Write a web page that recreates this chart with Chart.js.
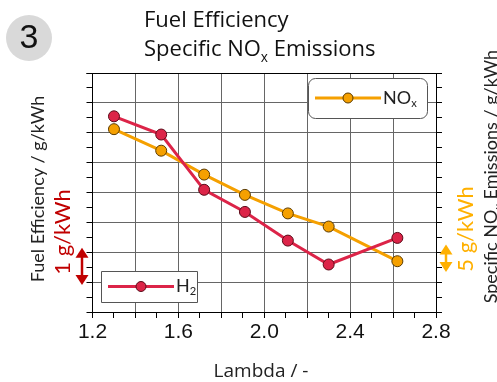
<!DOCTYPE html>
<html>
<head>
<meta charset="utf-8">
<script src="https://cdn.jsdelivr.net/npm/chart.js@4.4.1/dist/chart.umd.min.js"></script>
<style>
  html, body { margin: 0; padding: 0; background: #fff; }
  .container { width: 497px; height: 382px; }
</style>
</head>
<body>
<div class="container">
  <canvas id="myChart" width="497" height="382"></canvas>
</div>
<script>
// lambda values (x) and the two series
const lambdas = [1.3, 1.52, 1.72, 1.91, 2.11, 2.3, 2.62];
const fuelH2 = [6.55, 5.94, 4.09, 3.35, 2.39, 1.59, 2.48];   // g/kWh, relative (1 grid = 1 g/kWh)
const noxSpecific = [30.6, 27.0, 23.0, 19.6, 16.5, 14.3, 8.5]; // g/kWh, relative (1 grid = 5 g/kWh)
const xTickLabels = ['1.2', '1.6', '2.0', '2.4', '2.8'];

const RED = '#dc2448';
const ORANGE = '#f5a000';
const DARKRED = '#c00000';
const LABEL_ORANGE = '#ffb000';
const GRID = '#666';

// draws text with optional subscript parts: [['NO'], ['x', true]]
function richText(ctx, parts, x, y, size, font, align) {
  let total = 0;
  const widths = parts.map(p => {
    ctx.font = (p[1] ? size * 0.62 : size) + 'px ' + font;
    const w = ctx.measureText(p[0]).width;
    total += w;
    return w;
  });
  let cx = align === 'center' ? x - total / 2 : (align === 'right' ? x - total : x);
  parts.forEach((p, i) => {
    ctx.font = (p[1] ? size * 0.62 : size) + 'px ' + font;
    ctx.fillText(p[0], cx, p[1] ? y + size * 0.28 : y);
    cx += widths[i];
  });
}

function doubleArrow(ctx, x, y1, y2, color) {
  ctx.save();
  ctx.strokeStyle = color;
  ctx.fillStyle = color;
  ctx.lineWidth = 2.5;
  ctx.beginPath();
  ctx.moveTo(x, y1 + 6);
  ctx.lineTo(x, y2 - 6);
  ctx.stroke();
  ctx.beginPath();
  ctx.moveTo(x, y1); ctx.lineTo(x - 6.5, y1 + 10); ctx.lineTo(x + 6.5, y1 + 10);
  ctx.closePath(); ctx.fill();
  ctx.beginPath();
  ctx.moveTo(x, y2); ctx.lineTo(x - 6.5, y2 - 10); ctx.lineTo(x + 6.5, y2 - 10);
  ctx.closePath(); ctx.fill();
  ctx.restore();
}

function legendBox(ctx, x, y, w, h, r, color, pointColor, parts) {
  ctx.save();
  ctx.fillStyle = '#fff';
  ctx.strokeStyle = '#555';
  ctx.lineWidth = 1;
  ctx.beginPath();
  if (r > 0) ctx.roundRect(x + 0.5, y + 0.5, w, h, r); else ctx.rect(x + 0.5, y + 0.5, w, h);
  ctx.fill();
  ctx.stroke();
  const cy = y + h / 2;
  ctx.strokeStyle = color;
  ctx.lineWidth = 3;
  ctx.beginPath();
  ctx.moveTo(x + 7, cy);
  ctx.lineTo(x + 73, cy);
  ctx.stroke();
  ctx.fillStyle = color;
  ctx.strokeStyle = pointColor;
  ctx.lineWidth = 1;
  ctx.beginPath();
  ctx.arc(x + 40, cy, 5, 0, Math.PI * 2);
  ctx.fill();
  ctx.stroke();
  ctx.fillStyle = '#222';
  ctx.textBaseline = 'middle';
  richText(ctx, parts, x + 75, cy, 18, 'Lato', 'left');
  ctx.restore();
}

const decorations = {
  id: 'decorations',
  afterDatasetsDraw(chart) {
    const ctx = chart.ctx;
    const area = chart.chartArea;
    const y = chart.scales.y;
    const y1 = chart.scales.y1;

    // top frame line
    ctx.save();
    ctx.strokeStyle = '#000';
    ctx.lineWidth = 1;
    ctx.beginPath();
    ctx.moveTo(area.left - 6, Math.round(area.top) + 0.5);
    ctx.lineTo(area.right + 6, Math.round(area.top) + 0.5);
    ctx.stroke();
    ctx.restore();

    // legends inside the plot
    legendBox(ctx, 308, 78, 119, 40, 7, ORANGE, '#5a3a00', [['NO'], ['x', true]]);
    legendBox(ctx, 101, 271, 96, 31, 0, RED, '#5a0a18', [['H'], ['2', true]]);

    // panel number
    ctx.save();
    ctx.fillStyle = '#d9d9d9';
    ctx.beginPath();
    ctx.arc(29, 38, 23, 0, Math.PI * 2);
    ctx.fill();
    ctx.fillStyle = '#111';
    ctx.font = '34px "Liberation Sans"';
    ctx.textAlign = 'center';
    ctx.textBaseline = 'middle';
    ctx.fillText('3', 29, 39);

    // title
    ctx.textAlign = 'left';
    ctx.textBaseline = 'alphabetic';
    ctx.fillStyle = '#111';
    richText(ctx, [['Fuel Efficiency']], 144, 27, 22, '"Open Sans"', 'left');
    richText(ctx, [['Specific NO'], ['x', true], [' Emissions']], 144, 56, 22, '"Open Sans"', 'left');

    // x axis title
    ctx.fillStyle = '#222';
    richText(ctx, [['Lambda / -']], 261, 377, 19, '"Open Sans"', 'center');

    // left axis titles
    ctx.save();
    ctx.translate(44, 189);
    ctx.rotate(-Math.PI / 2);
    ctx.fillStyle = '#222';
    richText(ctx, [['Fuel Efficiency / g/kWh']], 0, 0, 18, 'Lato', 'center');
    ctx.restore();

    ctx.save();
    ctx.translate(70, 232);
    ctx.rotate(-Math.PI / 2);
    ctx.fillStyle = DARKRED;
    richText(ctx, [['1 g/kWh']], 0, 0, 22, 'Lato', 'center');
    ctx.restore();

    // right axis titles
    ctx.save();
    ctx.translate(473, 229);
    ctx.rotate(-Math.PI / 2);
    ctx.fillStyle = LABEL_ORANGE;
    richText(ctx, [['5 g/kWh']], 0, 0, 22, 'Lato', 'center');
    ctx.restore();

    ctx.save();
    ctx.translate(497, 50);
    ctx.rotate(-Math.PI / 2);
    ctx.fillStyle = '#222';
    richText(ctx, [['Specific NO'], ['x', true], [' Emissions / g/kWh']], 0, 0, 18, 'Lato', 'right');
    ctx.restore();

    // scale arrows: 1 g/kWh on the left, 5 g/kWh on the right
    doubleArrow(ctx, 82, y.getPixelForValue(2.15), y.getPixelForValue(0.9), DARKRED);
    doubleArrow(ctx, 446, y1.getPixelForValue(11.3), y1.getPixelForValue(6.7), LABEL_ORANGE);
    ctx.restore();
  }
};

const ctx = document.getElementById('myChart');
const myChart = new Chart(ctx, {
  type: 'line',
  data: {
    datasets: [{
      label: 'H2',
      data: lambdas.map((l, i) => ({ x: l, y: fuelH2[i] })),
      borderColor: RED,
      backgroundColor: RED,
      pointBorderColor: '#5a0a18',
      pointBorderWidth: 1,
      pointRadius: 5.5,
      borderWidth: 3,
      yAxisID: 'y',
      order: 1
    }, {
      label: 'NOx',
      data: lambdas.map((l, i) => ({ x: l, y: noxSpecific[i] })),
      borderColor: ORANGE,
      backgroundColor: ORANGE,
      pointBorderColor: '#5a3a00',
      pointBorderWidth: 1,
      pointRadius: 5.5,
      borderWidth: 3,
      yAxisID: 'y1',
      order: 2
    }]
  },
  options: {
    responsive: false,
    animation: false,
    events: [],
    layout: { padding: { top: 73 } },
    plugins: {
      legend: { display: false },
      tooltip: { enabled: false }
    },
    scales: {
      x: {
        type: 'linear',
        min: 1.2,
        max: 2.8,
        afterFit: (scale) => { scale.height = 70; },
        border: { color: '#000', width: 1 },
        grid: {
          color: (c) => Math.round(c.tick.value * 10) % 2 === 0 ? GRID : 'rgba(0,0,0,0)',
          tickColor: '#000',
          tickLength: 6
        },
        ticks: {
          stepSize: 0.1,
          autoSkip: false,
          maxRotation: 0,
          padding: 2,
          color: '#111',
          font: { family: '"Liberation Sans Narrow", "Liberation Sans"', size: 21 },
          callback: (value) => {
            const s = Number(value).toFixed(1);
            return xTickLabels.includes(s) ? s : '';
          }
        }
      },
      y: {
        min: 0,
        max: 8,
        afterFit: (scale) => { scale.width = 92.5; },
        border: { color: '#000', width: 1 },
        grid: {
          color: (c) => Math.round(c.tick.value * 2) % 2 === 0 ? GRID : 'rgba(0,0,0,0)',
          tickColor: '#000',
          tickLength: 6
        },
        ticks: { stepSize: 0.5, display: false }
      },
      y1: {
        position: 'right',
        min: 0,
        max: 40,
        afterFit: (scale) => { scale.width = 61; },
        border: { color: '#000', width: 1 },
        grid: {
          drawOnChartArea: false,
          tickColor: '#000',
          tickLength: 6
        },
        ticks: { stepSize: 2.5, display: false }
      }
    }
  },
  plugins: [decorations]
});
</script>
</body>
</html>
